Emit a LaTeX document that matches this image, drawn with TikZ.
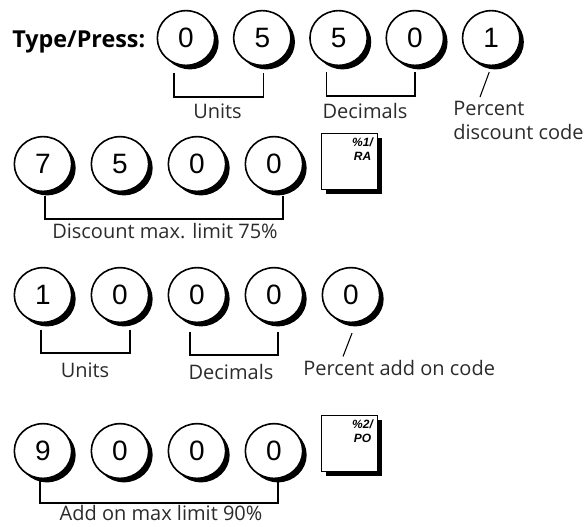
\documentclass[tikz,border=0pt]{standalone}
\usepackage{fontspec}
\usetikzlibrary{shapes.geometric, shadows}
\newfontfamily\keyfont{Liberation Sans}
\newfontfamily\lblfont{Open Sans}
\newfontfamily\hdfont{Open Sans}
\definecolor{cTxt}{HTML}{2B2B2B}

\begin{document}
\begin{tikzpicture}[
    x=0.75pt, y=-0.75pt,
    key/.style={ellipse, draw, line width=1.2pt, fill=white, inner sep=0pt,
        minimum width=43pt, minimum height=41pt,
        font=\keyfont\fontsize{21}{21}\selectfont,
        drop shadow={shadow xshift=3pt, shadow yshift=-3pt, fill=black, opacity=1}},
    fkey/.style={rectangle, draw, line width=0.9pt, fill=white, inner sep=0pt,
        minimum size=42pt,
        drop shadow={shadow xshift=3.6pt, shadow yshift=-3.6pt, fill=black, opacity=1}},
    fktxt/.style={inner sep=0pt, align=center, font=\keyfont\fontsize{9}{10.5}\selectfont\bfseries\itshape},
    lbl/.style={inner sep=0pt, text=cTxt, font=\lblfont\fontsize{15}{18}\selectfont},
    brk/.style={draw=black, line width=1.2pt},
    lead/.style={draw=black, line width=0.8pt},
]
\useasboundingbox (0,0) rectangle (584,526);

% ===================== Riga 1: 0 5 5 0 1 =====================
\node[anchor=base west, inner sep=0pt, font=\hdfont\fontsize{17.5}{20}\selectfont\bfseries] (hd) at (12,47) {Type/Press:};
\foreach \d [count=\i] in {0,5,5,0,1} {
    \node[key] (a\i) at ({186+(\i-1)*76.3},38) {\d};
}
\draw[brk] ([shift={(-12,7)}]a1.south) -- ++(0,24) -| ([shift={(1,7)}]a2.south);
\draw[brk] ([shift={(-12,6)}]a3.south) -- ++(0,24) -| ([shift={(0,6)}]a4.south);
\node[lbl, anchor=base] (unitsA) at (217.5,118) {Units};
\node[lbl, anchor=base] (decA) at (365,118) {Decimals};
\node[lbl, anchor=north west, align=left] (pctA) at (453,101) {Percent\\discount code};
\draw[lead] ([shift={(-2,6)}]a5.south) -- ([shift={(27,-4)}]pctA.north west);

% ===================== Riga 2: 7 5 0 0  %1/RA =====================
\foreach \d [count=\i] in {7,5,0,0} {
    \node[key] (b\i) at ({43+(\i-1)*77},164) {\d};
}
\node[fkey] (ra) at (349.5,161.5) {};
\node[fktxt, anchor=north] (ratxt) at ([shift={(13,5)}]ra.north) {\%1/\\RA};
\draw[brk] ([shift={(2,4)}]b1.south) -- ++(0,23) -| ([shift={(9,4)}]b4.south);
\node[lbl, anchor=base] (limA) at (165,238) {Discount max. limit 75\%};

% ===================== Riga 3: 1 0 0 0 0 =====================
\foreach \d [count=\i] in {1,0,0,0,0} {
    \node[key] (c\i) at ({43+(\i-1)*77},295) {\d};
}
\draw[brk] ([shift={(-2,7)}]c1.south) -- ++(0,23) -| ([shift={(10,7)}]c2.south);
\draw[brk] ([shift={(-7,9)}]c3.south) -- ++(0,23) -| ([shift={(4,9)}]c4.south);
\node[lbl, anchor=base] (unitsB) at (85,377) {Units};
\node[lbl, anchor=base] (decB) at (231,379) {Decimals};
\node[lbl, anchor=base west] (pctB) at (303,375) {Percent add on code};
\draw[lead] ([shift={(1,10)}]c5.south) -- ([shift={(40,-3)}]pctB.north west);

% ===================== Riga 4: 9 0 0 0  %2/PO =====================
\foreach \d [count=\i] in {9,0,0,0} {
    \node[key] (d\i) at ({43+(\i-1)*77},451) {\d};
}
\node[fkey] (po) at (349.5,443.5) {};
\node[fktxt, anchor=north] (potxt) at ([shift={(13,5)}]po.north) {\%2/\\PO};
\draw[brk] ([shift={(-3,2)}]d1.south) -- ++(0,22) -| ([shift={(4,2)}]d4.south);
\node[lbl, anchor=base] (limB) at (161,520) {Add on max limit 90\%};

\end{tikzpicture}
\end{document}
